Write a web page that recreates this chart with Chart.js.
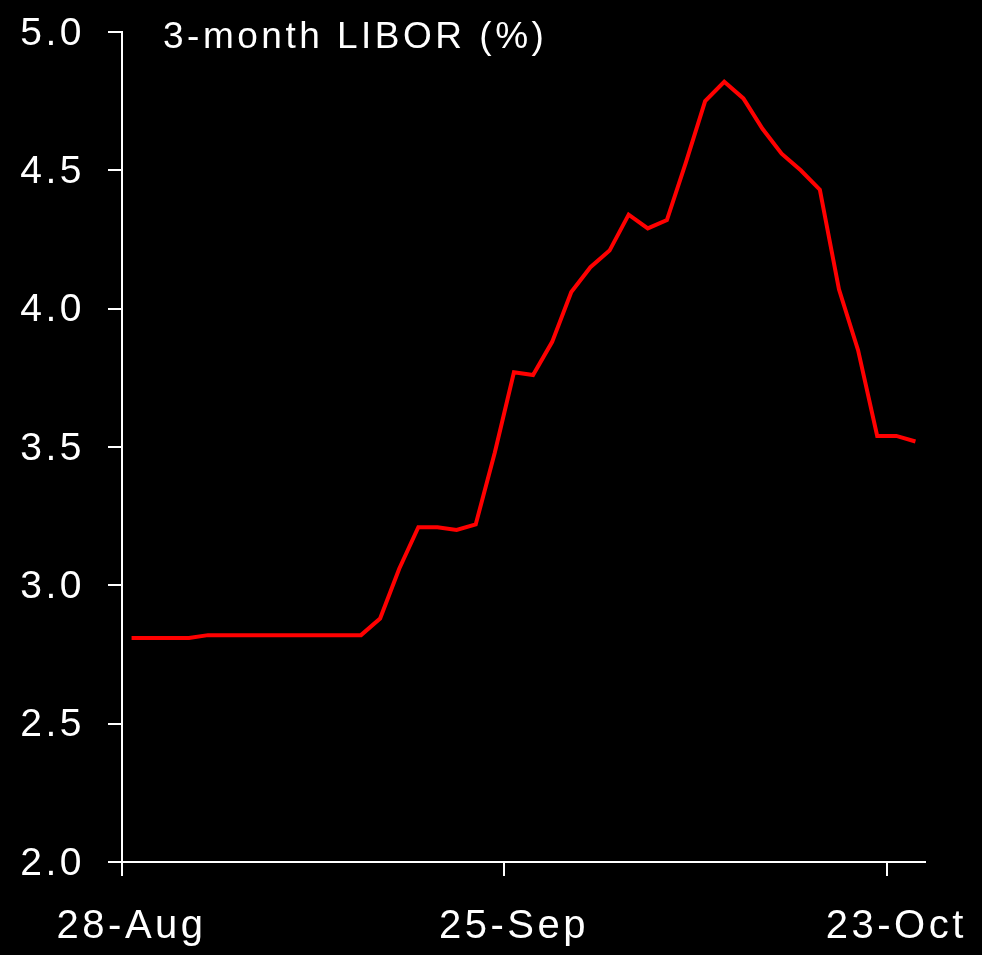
<!DOCTYPE html>
<html>
<head>
<meta charset="utf-8">
<script src="https://cdn.jsdelivr.net/npm/chart.js@4/dist/chart.umd.min.js"></script>
<style>
  html, body { margin: 0; padding: 0; background: #000; }
  #wrap { width: 982px; height: 955px; position: relative; }
</style>
</head>
<body>
<div id="wrap"><canvas id="c"></canvas></div>
<script>
// ---- data ----
const chartTitle = '3-month LIBOR (%)';
const dates = [
  '28-Aug','29-Aug','1-Sep','2-Sep','3-Sep','4-Sep','5-Sep','8-Sep','9-Sep','10-Sep',
  '11-Sep','12-Sep','15-Sep','16-Sep','17-Sep','18-Sep','19-Sep','22-Sep','23-Sep','24-Sep',
  '25-Sep','26-Sep','29-Sep','30-Sep','1-Oct','2-Oct','3-Oct','6-Oct','7-Oct','8-Oct',
  '9-Oct','10-Oct','13-Oct','14-Oct','15-Oct','16-Oct','17-Oct','20-Oct','21-Oct','22-Oct',
  '23-Oct','24-Oct'
];
const libor = [
  2.81, 2.81, 2.81, 2.81, 2.82, 2.82, 2.82, 2.82, 2.82, 2.82,
  2.82, 2.82, 2.82, 2.88, 3.06, 3.21, 3.21, 3.20, 3.22, 3.48,
  3.77, 3.76, 3.88, 4.06, 4.15, 4.21, 4.34, 4.29, 4.32, 4.53,
  4.75, 4.82, 4.76, 4.65, 4.56, 4.50, 4.43, 4.07, 3.85, 3.54,
  3.54, 3.52
];
const xTickLabels = ['28-Aug', '25-Sep', '23-Oct'];
const yMin = 2.0, yMax = 5.0, yStep = 0.5;

// ---- chart ----
const SPACING = '3.5px';
const spacingPlugin = {
  id: 'spacing',
  beforeUpdate(chart) { chart.ctx.letterSpacing = SPACING; },
  beforeLayout(chart) { chart.ctx.letterSpacing = SPACING; },
  beforeDraw(chart) { chart.ctx.letterSpacing = SPACING; },
  afterDraw(chart) {
    const ctx = chart.ctx;
    ctx.save();
    ctx.letterSpacing = SPACING;
    ctx.font = '37px "Liberation Sans"';
    ctx.fillStyle = '#ffffff';
    ctx.textAlign = 'left';
    ctx.textBaseline = 'alphabetic';
    ctx.fillText(chartTitle, 163, 48);
    ctx.restore();
  }
};

Chart.defaults.font.family = '"Liberation Sans", Arial, sans-serif';
Chart.defaults.color = '#ffffff';

new Chart(document.getElementById('c'), {
  type: 'line',
  data: {
    labels: dates,
    datasets: [{
      data: libor,
      borderColor: '#ff0000',
      borderWidth: 4,
      pointRadius: 0,
      tension: 0,
      fill: false
    }]
  },
  options: {
    responsive: true,
    maintainAspectRatio: false,
    animation: false,
    events: [],
    layout: { padding: { top: 32, right: 57, left: 0, bottom: 0 } },
    plugins: { legend: { display: false }, tooltip: { enabled: false }, title: { display: false } },
    scales: {
      x: {
        type: 'category',
        offset: true,
        afterFit(scale) { scale.height = 93; scale.paddingLeft = 0; scale.paddingRight = 0; },
        border: { display: true, color: '#ffffff', width: 2 },
        grid: {
          offset: true,
          drawOnChartArea: false,
          drawTicks: true,
          tickLength: 14,
          lineWidth: 2,
          color: (ctx) => (ctx.index !== undefined && ctx.index % 20 === 0) ? '#ffffff' : 'rgba(0,0,0,0)'
        },
        ticks: {
          autoSkip: false,
          maxRotation: 0,
          minRotation: 0,
          padding: 27,
          color: '#ffffff',
          font: { size: 40 },
          callback(value, index) {
            const l = dates[index];
            return xTickLabels.includes(l) ? l : '';
          }
        }
      },
      y: {
        min: yMin,
        max: yMax,
        afterFit(scale) { scale.width = 122; scale.paddingTop = 0; scale.paddingBottom = 0; },
        border: { display: true, color: '#ffffff', width: 2 },
        grid: {
          drawOnChartArea: false,
          drawTicks: true,
          tickLength: 14,
          lineWidth: 2,
          color: '#ffffff'
        },
        ticks: {
          stepSize: yStep,
          padding: 23,
          labelOffset: 2,
          color: '#ffffff',
          font: { size: 39 },
          callback(value) { return Number(value).toFixed(1); }
        }
      }
    }
  },
  plugins: [spacingPlugin]
});
</script>
</body>
</html>
